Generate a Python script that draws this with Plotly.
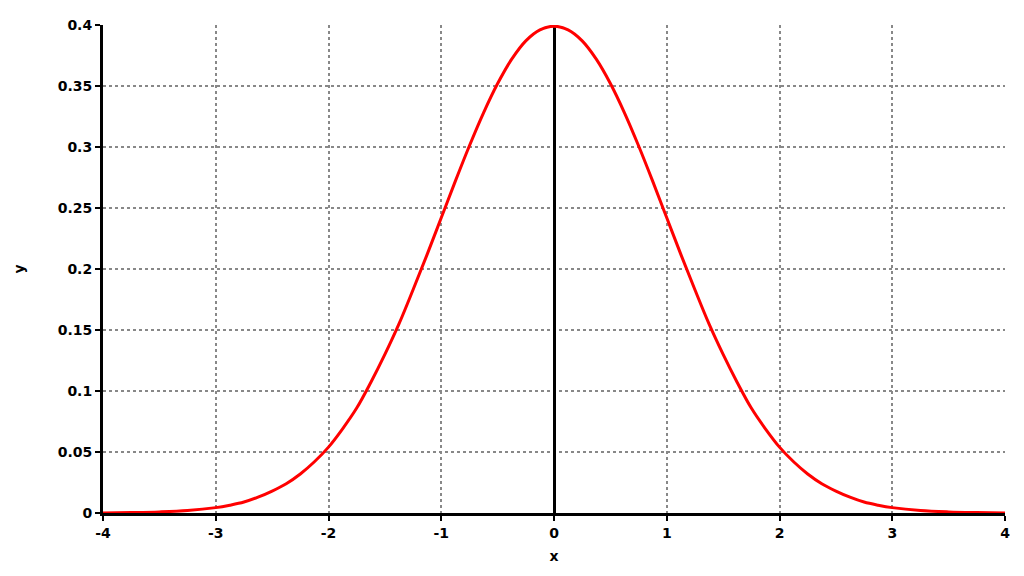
import plotly.graph_objects as go

# values (right half, mirrored for the left)
x_right = [0, 0.125, 0.25, 0.375, 0.5, 0.625, 0.75, 0.875, 1, 1.125, 1.25, 1.375, 1.5, 1.625, 1.75, 1.875,
           2, 2.125, 2.25, 2.375, 2.5, 2.625, 2.75, 2.875, 3, 3.25, 3.5, 3.75, 4]
y_right = [0.399, 0.396, 0.387, 0.372, 0.352, 0.328, 0.301, 0.272, 0.242, 0.212, 0.183, 0.155, 0.130,
           0.107, 0.086, 0.069, 0.054, 0.042, 0.032, 0.024, 0.018, 0.013, 0.009, 0.0064,
           0.0044, 0.002, 0.0009, 0.0004, 0.0001]
x_vals = [-v for v in x_right[::-1]] + x_right[1:]
y_vals = y_right[::-1] + y_right[1:]

x_ticks = [-4, -3, -2, -1, 0, 1, 2, 3, 4]
y_ticks = [0, 0.05, 0.1, 0.15, 0.2, 0.25, 0.3, 0.35, 0.4]

fig = go.Figure()
fig.add_trace(go.Scatter(x=x_vals, y=y_vals, mode='lines', line=dict(color='red', width=3, shape='spline'),
                         showlegend=False))

font = dict(family='DejaVu Sans', size=14, color='black', weight='bold')
grid = dict(showgrid=True, gridcolor='#888888', griddash='dot', gridwidth=1.5,
            showline=True, linecolor='black', linewidth=3, mirror=False,
            zeroline=True, zerolinecolor='black', zerolinewidth=3,
            ticks='outside', ticklen=5, tickwidth=2, tickcolor='black', tickfont=font,
            automargin=False)

fig.update_xaxes(range=[-4, 4], tickvals=x_ticks, ticktext=[str(t) for t in x_ticks],
                 title=dict(text='x', font=font, standoff=12), **grid)
fig.update_yaxes(range=[0, 0.4], tickvals=y_ticks, ticktext=['0', '0.05', '0.1', '0.15', '0.2', '0.25', '0.3', '0.35', '0.4'],
                 title=dict(text='y', font=font, standoff=30), **grid)

fig.update_layout(width=1024, height=576, plot_bgcolor='white', paper_bgcolor='white',
                  margin=dict(l=95, r=27, t=17, b=71), font=font)

fig.write_html("out.html")
